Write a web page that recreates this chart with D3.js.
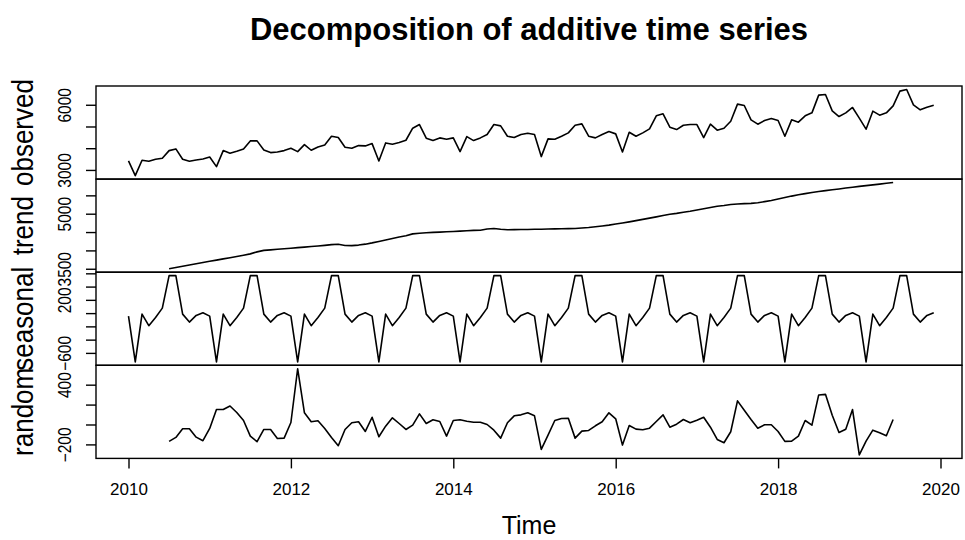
<!DOCTYPE html>
<html>
<head>
<meta charset="utf-8">
<script src="https://cdn.jsdelivr.net/npm/d3@7"></script>
<style>
  body { margin: 0; background: #fff; }
  svg { display: block; }
</style>
</head>
<body>
<div id="chart"></div>
<script>
// monthly series, Jan 2010 .. Dec 2019
const startYear = 2010;
const observed = [
  3414, 2737, 3444, 3398, 3491, 3537, 3890, 3967, 3491, 3398, 3460, 3506,
  3598, 3152, 3890, 3767, 3860, 3967, 4337, 4337, 3921, 3798, 3829, 3890,
  3998, 3844, 4167, 3906, 4060, 4152, 4552, 4490, 4044, 3998, 4121, 4106,
  4213, 3414, 4244, 4183, 4260, 4367, 4921, 5090, 4460, 4352, 4475, 4413,
  4475, 3844, 4536, 4352, 4475, 4629, 5090, 5029, 4552, 4490, 4629, 4690,
  4629, 3614, 4429, 4413, 4552, 4706, 5059, 5121, 4552, 4475, 4629, 4767,
  4660, 3829, 4736, 4552, 4706, 4890, 5490, 5582, 4967, 4859, 5059, 5090,
  5090, 4490, 5106, 4829, 4921, 5244, 6028, 5967, 5305, 5106, 5275, 5367,
  5275, 4552, 5305, 5198, 5490, 5628, 6444, 6474, 5721, 5459, 5628, 5875,
  5382, 4875, 5705, 5521, 5628, 5951, 6628, 6705, 5998, 5767, 5890, 5982
];
// centred moving average: first value is July 2010, last is June 2019
const trendStart = 6;
const trend = [
  3500, 3534, 3568, 3602, 3636, 3670,
  3703, 3736, 3769, 3802, 3835, 3868, 3905, 3960, 4000, 4015, 4030, 4045,
  4060, 4075, 4090, 4105, 4120, 4138, 4157, 4166, 4135, 4130, 4145, 4170,
  4205, 4245, 4285, 4325, 4365, 4400, 4450, 4468, 4481, 4490, 4499, 4508,
  4517, 4526, 4535, 4545, 4550, 4585, 4598, 4575, 4562, 4565, 4568, 4571,
  4575, 4578, 4582, 4586, 4590, 4594, 4598, 4610, 4625, 4645, 4665, 4688,
  4718, 4748, 4778, 4812, 4846, 4880, 4913, 4950, 4985, 5010, 5040, 5066,
  5100, 5135, 5170, 5205, 5225, 5250, 5265, 5275, 5282, 5300, 5330, 5360,
  5400, 5440, 5480, 5515, 5548, 5579, 5605, 5630, 5651, 5675, 5699, 5723,
  5744, 5765, 5786, 5807, 5828, 5849
];
// seasonal figure, Jan..Dec
const seasonalFigure = [-45, -735, -15, -190, -65, 75, 565, 565, -15, -135, -35, 5];
const random = [
  -170, -130, -43, -43, -127, -163,
  -40, 150, 150, 186, 120, 40, -117, -173, -50, -50, -140, -137,
  20, 560, 117, 27, 37, -40, -130, -213, -50, 17, 27, -70,
  73, -123, -17, 67, 10, -50, -7, 107, 10, 47, 30, -117,
  40, 47, 33, 23, 23, 0, -57, -137, 17, 87, 97, 117,
  87, -250, -107, 40, 60, 63, -137, -67, -60, -13, 27, 117,
  57, -207, -10, -47, -53, -37, 30, 97, -27, 3, 50, 17,
  43, 73, -27, -150, -183, -73, 237, 143, 50, -37, -3, -3,
  -70, -170, -167, -117, 40, -7, 297, 303, 93, -80, -47, 150,
  -306, -167, -57, -83, -113, 50
];

const panelNames = ["observed", "trend", "seasonal", "random"];
const yTicks = [
  [3000, 4000, 5000, 6000],
  [3500, 4000, 4500, 5000, 5500],
  [-600, -400, -200, 0, 200, 400, 600],
  [-200, 0, 200, 400]
];
const yTickLabels = [[3000, 6000], [3500, 5000], [-600, 200], [-200, 400]];
const xTicks = [2010, 2012, 2014, 2016, 2018, 2020];

const W = 965, H = 540;
const plotLeft = 96, plotRight = 962;
const plotTop = 86, panelH = 93.1;

const toSeries = (vals, offset) => vals.map((v, i) => ({t: startYear + (i + offset) / 12, v: v}));
const series = [
  toSeries(observed, 0),
  toSeries(trend, trendStart),
  toSeries(observed.map((d, i) => seasonalFigure[i % 12]), 0),
  toSeries(random, trendStart)
];

const x = d3.scaleLinear([2010, 2020], [128.5, 940.5]);

const svg = d3.select("#chart").append("svg")
  .attr("width", W)
  .attr("height", H)
  .style("background", "#fff");

const fmt = d3.format("");

series.forEach((data, k) => {
  const y0 = plotTop + k * panelH;
  // R style 4% padding of the value range
  const ext = d3.extent(data, d => d.v);
  const pad = (ext[1] - ext[0]) * 0.04;
  const y = d3.scaleLinear([ext[0] - pad, ext[1] + pad], [y0 + panelH, y0]);

  const g = svg.append("g");

  g.append("path")
    .datum(data)
    .attr("fill", "none")
    .attr("stroke", "#000")
    .attr("stroke-width", 1.6)
    .attr("stroke-linejoin", "round")
    .attr("d", d3.line().x(d => x(d.t)).y(d => y(d.v)));

  g.append("rect")
    .attr("x", plotLeft)
    .attr("y", y0)
    .attr("width", plotRight - plotLeft)
    .attr("height", panelH)
    .attr("fill", "none")
    .attr("stroke", "#000")
    .attr("stroke-width", 1.4);

  const axis = d3.axisLeft(y)
    .tickValues(yTicks[k])
    .tickSize(10)
    .tickPadding(14)
    .tickFormat(d => yTickLabels[k].includes(d) ? fmt(d) : "");

  const ax = g.append("g")
    .attr("transform", `translate(${plotLeft},0)`)
    .call(axis);
  ax.select(".domain").remove();
  ax.selectAll(".tick line").attr("stroke", "#000").attr("stroke-width", 1.4);
  ax.selectAll(".tick text")
    .attr("x", null).attr("dy", null)
    .attr("transform", "translate(-25,0) rotate(-90) scale(1,1.15)")
    .attr("text-anchor", "middle")
    .attr("font-family", "'Liberation Sans', Arial, sans-serif")
    .attr("font-size", 15.5)
    .attr("fill", "#000");

  svg.append("text")
    .attr("transform", `translate(33,${y0 + panelH / 2}) rotate(-90) scale(1,1.15)`)
    .attr("text-anchor", "middle")
    .attr("font-family", "'Liberation Sans', Arial, sans-serif")
    .attr("font-size", 26)
    .attr("fill", "#000")
    .text(panelNames[k]);
});

const plotBottom = plotTop + 4 * panelH;
const xAxis = d3.axisBottom(x)
  .tickValues(xTicks)
  .tickSize(10)
  .tickPadding(15)
  .tickFormat(fmt);
const xa = svg.append("g")
  .attr("transform", `translate(0,${plotBottom})`)
  .call(xAxis);
xa.select(".domain").remove();
xa.selectAll(".tick line").attr("stroke", "#000").attr("stroke-width", 1.4);
xa.selectAll(".tick text")
  .attr("font-family", "'Liberation Sans Narrow', 'Liberation Sans', Arial, sans-serif")
  .attr("font-size", 17)
  .attr("fill", "#000");

svg.append("text")
  .attr("x", (plotLeft + plotRight) / 2)
  .attr("y", 534)
  .attr("text-anchor", "middle")
  .attr("font-family", "'Liberation Sans', Arial, sans-serif")
  .attr("font-size", 25)
  .attr("fill", "#000")
  .text("Time");

svg.append("text")
  .attr("x", (plotLeft + plotRight) / 2)
  .attr("y", 40)
  .attr("text-anchor", "middle")
  .attr("font-family", "'Liberation Sans', Arial, sans-serif")
  .attr("font-weight", "bold")
  .attr("font-size", 31)
  .attr("fill", "#000")
  .text("Decomposition of additive time series");
</script>
</body>
</html>
